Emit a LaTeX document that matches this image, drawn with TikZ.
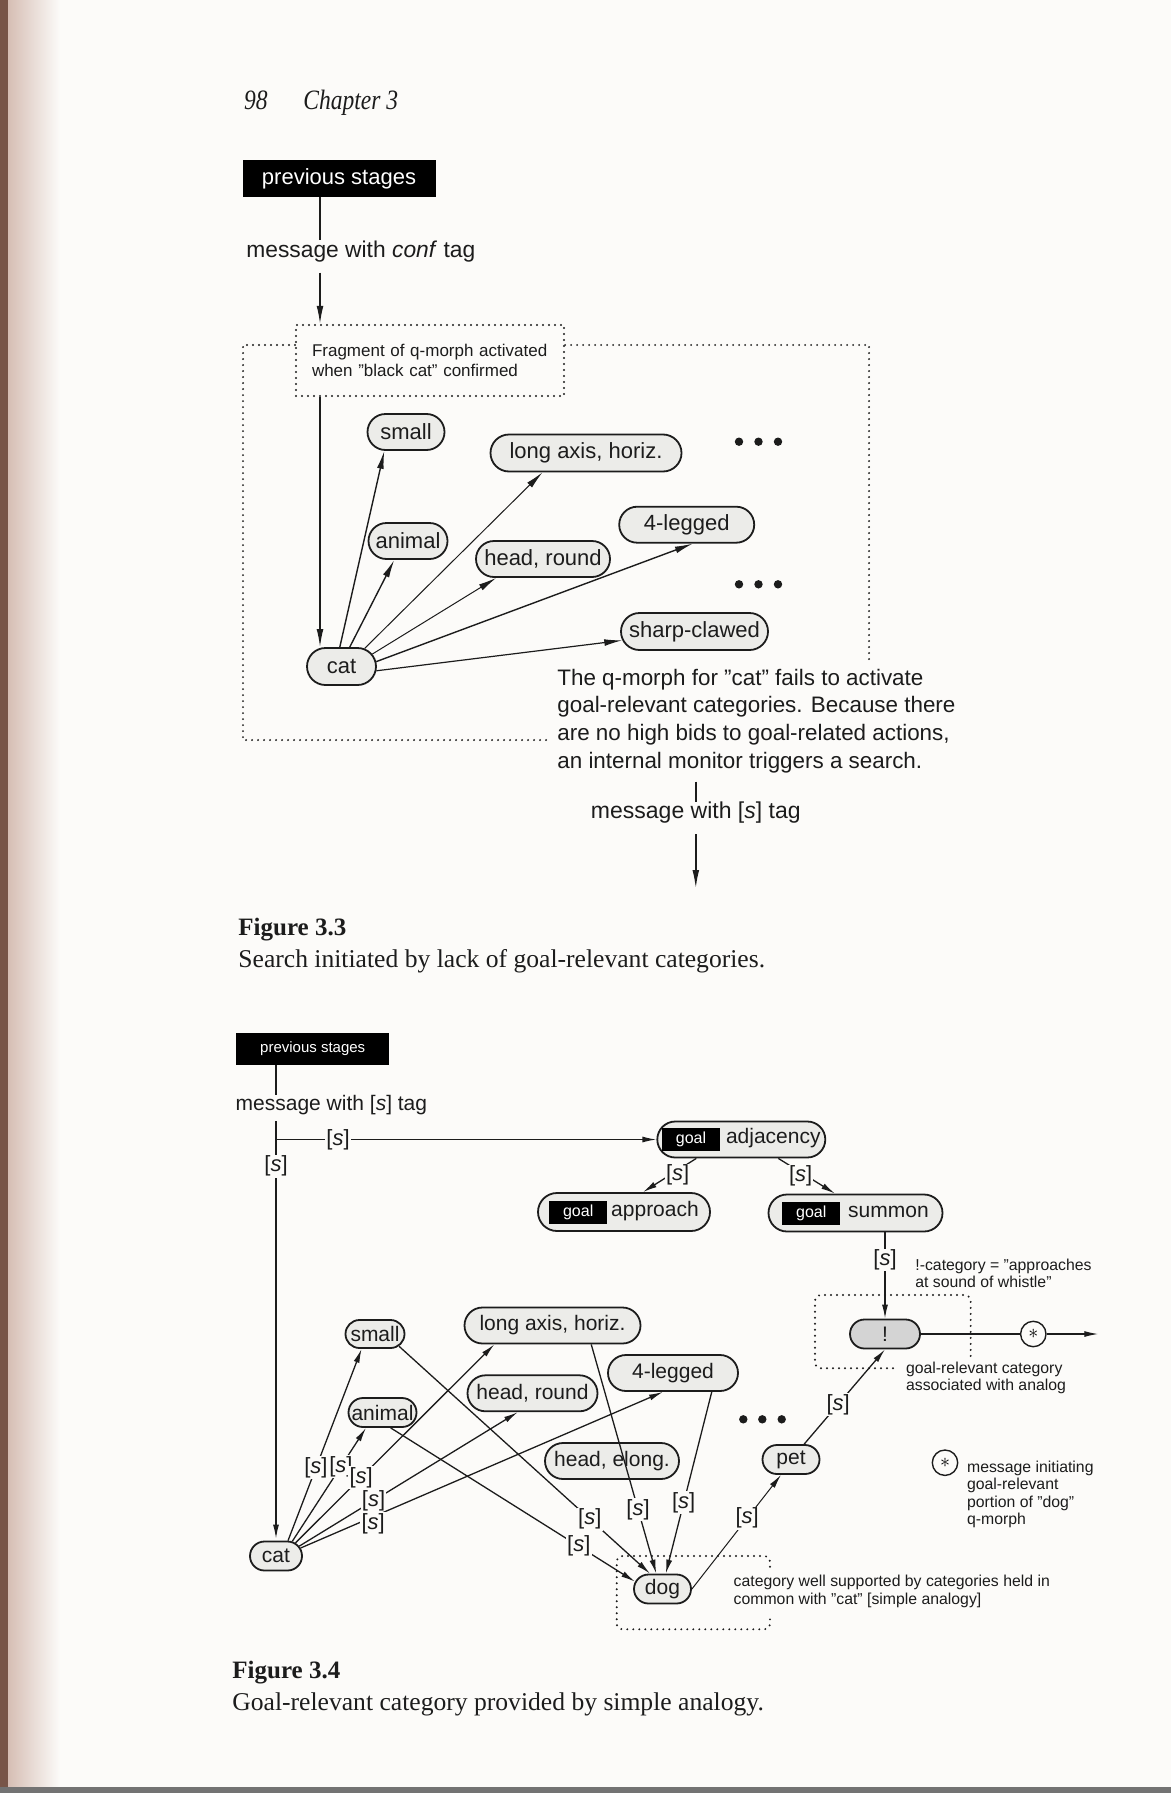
\documentclass[tikz,border=0pt]{standalone}
\usepackage{fontspec}
\setmainfont{Liberation Serif}
\setsansfont{Liberation Sans}
\usepackage{tikz}
\usetikzlibrary{arrows.meta,positioning,calc,shapes.misc}
\usepackage{xcolor}
\definecolor{pagebg}{RGB}{252,251,249}
\definecolor{gutter}{RGB}{214,190,180}
\definecolor{gutterdark}{RGB}{120,85,72}
\definecolor{stipple}{RGB}{236,236,233}
\definecolor{inkgray}{RGB}{28,28,28}
\newcommand{\goaltag}{{\setlength{\fboxsep}{0pt}\colorbox{black}{\makebox[29pt]{\rule[-3.6pt]{0pt}{11.5pt}\color{white}\fontsize{8}{8}\selectfont goal}}}}
\newcommand{\stag}{[\textit{s}]}
\tikzset{
  catbox/.style={rounded rectangle, draw=inkgray, line width=0.9pt, fill=stipple,
                 inner sep=0pt, text=inkgray},
  bigcat/.style={catbox, font=\sffamily\fontsize{11}{13}\selectfont},
  smallcat/.style={catbox, font=\sffamily\fontsize{10.5}{12}\selectfont},
  stagebox/.style={fill=black, text=white, inner sep=0pt},
  bigarr/.style={-{Latex[length=9pt,width=3.4pt]}, draw=inkgray, line width=0.7pt},
  smallarr/.style={-{Latex[length=7pt,width=3pt]}, draw=inkgray, line width=0.65pt},
  plainline/.style={draw=inkgray, line width=0.7pt},
  dotline/.style={draw=inkgray, line width=1.1pt, line cap=round, dash pattern=on 0pt off 3pt},
  tagl/.style={fill=pagebg, inner sep=0.6pt, text=inkgray, font=\sffamily\fontsize{11}{11}\selectfont},
  msgtext/.style={inner sep=0pt, text=inkgray},
  note/.style={align=left, inner sep=0pt, text=inkgray, font=\sffamily\fontsize{7.9}{8.7}\selectfont},
  runhead/.style={inner sep=0pt, text=inkgray, font=\itshape\fontsize{14}{14}\selectfont},
  figlabel/.style={inner sep=0pt, text=inkgray, font=\bfseries\fontsize{12.5}{14}\selectfont},
  figcap/.style={inner sep=0pt, text=inkgray, font=\fontsize{12.8}{15}\selectfont},
}

\begin{document}
\begin{tikzpicture}[x=0.5pt,y=-0.5pt]
% page and gutter
\fill[pagebg] (0,0) rectangle (1171,1793);
\shade[left color=gutter, right color=pagebg] (8,0) rectangle (60,1793);
\fill[gutterdark] (0,0) rectangle (8,1793);
\fill[black!55] (0,1787) rectangle (1171,1793);
\useasboundingbox (0,0) rectangle (1171,1793);

\node[runhead, anchor=base west] (pgno) at (243.6,109.5) {\scalebox{0.84}[1]{98}};
\node[runhead, anchor=base west] (chap) at (303,109.5) {\scalebox{0.84}[1]{Chapter 3}};

% ---- Figure 3.3 ----
\coordinate (spine1) at (320,0);
\node[stagebox, minimum width=96.5pt, minimum height=18.5pt,
      font=\sffamily\fontsize{11}{11}\selectfont] (prev1) at (339,178.5) {previous stages};
\node[msgtext, font=\sffamily\fontsize{11.4}{13}\selectfont] (msg1) at (360.8,251.5)
  {message with \textit{conf} tag};
\node[dotline, minimum width=134pt, minimum height=35.5pt, inner xsep=8pt, text width=118pt,
      align=left, text=inkgray, font=\sffamily\fontsize{8.5}{9.6}\selectfont] (frag) at (430,360.5)
  {Fragment of q-morph activated\\when ''black cat'' confirmed};

\coordinate (bnd1) at (243,345);
\coordinate (bnd2) at (243,740);
\coordinate (bnd3) at (547,740);
\coordinate (bnd4) at (869,345);
\coordinate (bnd5) at (869,665);
\draw[dotline] (frag.west |- bnd1) -- (bnd1) -- (bnd2) -- (bnd3);
\draw[dotline] (frag.east |- bnd4) -- (bnd4) -- (bnd5);

\node[bigcat, minimum width=34.5pt, minimum height=18.5pt] (cat1) at (341.5,666.5) {cat};
\node[bigcat, minimum width=38.5pt, minimum height=18pt] (small1) at (406,432) {small};
\node[bigcat, minimum width=95.5pt, minimum height=18.5pt] (axis1) at (586,453) {long axis, horiz.};
\node[bigcat, minimum width=39.5pt, minimum height=18pt] (animal1) at (408,541) {animal};
\node[bigcat, minimum width=67pt, minimum height=18pt] (round1) at (543,559) {head, round};
\node[bigcat, minimum width=67.5pt, minimum height=18pt] (legged1) at (686.7,524.7) {4-legged};
\node[bigcat, minimum width=73.5pt, minimum height=18.5pt] (clawed1) at (694.5,631.5) {sharp-clawed};
\coordinate (dotsA) at (739,441.7);
\coordinate (dotsB) at (739,584.3);
\foreach \dx in {0,19.5,39} {
  \fill[inkgray] ($(dotsA)+(\dx,0)$) circle (2.1pt);
  \fill[inkgray] ($(dotsB)+(\dx,0)$) circle (2.1pt);
}

\draw[plainline] (prev1.south -| spine1) -- (msg1.north -| spine1);
\draw[bigarr, shorten <=5pt] (msg1.south -| spine1) -- (frag.north -| spine1);
\draw[bigarr] (frag.south -| spine1) -- (cat1.north -| spine1);
\draw[bigarr] (cat1.95) -- (small1.221);
\draw[bigarr] (cat1.67) -- (animal1.234);
\draw[bigarr, line width=0.5pt] (cat1.38) -- (axis1.204);
\draw[bigarr, line width=0.5pt] (cat1.22) -- (round1.202);
\draw[bigarr] (cat1.8) -- (legged1.288);
\draw[bigarr, line width=0.6pt] (cat1.353) -- (clawed1.187);

\node[msgtext, anchor=west, align=left, font=\sffamily\fontsize{11.2}{13.9}\selectfont] (para) at (557,721)
  {The q-morph for ''cat'' fails to activate\\goal-relevant categories. Because there\\are no high bids to goal-related actions,\\an internal monitor triggers a search.};
\node[msgtext, font=\sffamily\fontsize{11.5}{13}\selectfont] (msg2) at (695.8,813) {message with \stag\ tag};
\coordinate (out1) at (695.8,888);
\draw[plainline, shorten <=4pt] (para.south -| msg2) -- (msg2.north);
\draw[bigarr, shorten <=5pt] (msg2.south) -- (out1);

\node[figlabel, anchor=base west] (cap3) at (238,935) {Figure 3.3};
\node[figcap, anchor=base west] (cap3t) at (238,967.5) {Search initiated by lack of goal-relevant categories.};

% ---- Figure 3.4 ----
\node[stagebox, minimum width=76.5pt, minimum height=16pt,
      font=\sffamily\fontsize{7.5}{7.5}\selectfont] (prev2) at (312.7,1048.9) {previous stages};
\node[msgtext, font=\sffamily\fontsize{10.5}{12}\selectfont] (msg3) at (331.4,1105) {message with \stag\ tag};

\node[smallcat, minimum width=84pt, minimum height=18pt] (adj) at (741.3,1139.5) {\goaltag\hspace{3pt}adjacency};
\node[smallcat, minimum width=86pt, minimum height=19pt] (appr) at (624,1212) {\goaltag\hspace{2pt}approach};
\node[smallcat, minimum width=87pt, minimum height=18.5pt] (summ) at (855.5,1213) {\goaltag\hspace{4pt}summon};

\node[smallcat, minimum width=26pt, minimum height=14.5pt] (cat2) at (276,1556) {cat};
\node[smallcat, minimum width=29.5pt, minimum height=14pt] (small2) at (375,1334) {small};
\node[smallcat, minimum width=34pt, minimum height=14.5pt] (animal2) at (382.5,1412.5) {animal};
\node[smallcat, minimum width=88pt, minimum height=18pt] (axis2) at (552.5,1325.5) {long axis, horiz.};
\node[smallcat, minimum width=65pt, minimum height=18pt] (round2) at (532.5,1393.3) {head, round};
\node[smallcat, minimum width=65pt, minimum height=18pt] (legged2) at (673,1373) {4-legged};
\node[smallcat, minimum width=67pt, minimum height=18pt] (elong2) at (612,1461) {head, elong.};
\node[smallcat, minimum width=28.5pt, minimum height=14.5pt] (dog) at (662.5,1589) {dog};
\node[smallcat, minimum width=28.5pt, minimum height=14.5pt] (pet) at (791,1459.5) {pet};
\node[smallcat, minimum width=35pt, minimum height=14.5pt, fill=black!17] (bang) at (885,1334) {!};
\node[circle, draw=inkgray, line width=0.7pt, fill=pagebg, minimum size=12.7pt, inner sep=0pt] (star) at (1033.3,1334) {$\ast$};
\node[circle, draw=inkgray, line width=0.7pt, minimum size=12.7pt, inner sep=0pt] (starkey) at (945,1462.7) {$\ast$};
\coordinate (out2) at (1098.3,1334);
\coordinate (dotsC) at (743.3,1419.3);
\foreach \dx in {0,19,38.4}
  \fill[inkgray] ($(dotsC)+(\dx,0)$) circle (2.1pt);

% spine with [s] tags
\draw[plainline] (prev2.south -| cat2.north) -- (msg3.north -| cat2.north);
\draw[smallarr, shorten <=3pt, shorten >=1pt] (msg3.south -| cat2.north) -- (cat2.north)
  node[pos=0.12, tagl] {\stag};
\draw[smallarr] (adj.west -| cat2.north) -- (adj.west) node[pos=0.163, tagl] {\stag};

% goal hierarchy
\draw[smallarr] ($(adj.south)+(-45,0)$) -- ($(appr.north)+(19,0)$) node[midway, xshift=4pt, tagl] {\stag};
\draw[smallarr] ($(adj.south)+(37,0)$) -- ($(summ.north)+(-20.5,0)$) node[midway, xshift=-3pt, tagl] {\stag};
\draw[smallarr] (summ.south -| bang.north) -- (bang.north) node[pos=0.32, tagl] {\stag};

% cat to its categories
\draw[smallarr] (cat2.52) -- (small2.228) node[pos=0.38, tagl] {\stag};
\draw[smallarr] (cat2.42) -- (animal2.223) node[pos=0.66, tagl] {\stag};
\draw[smallarr] (cat2.34) -- (axis2.198) node[pos=0.33, tagl] {\stag};
\draw[smallarr] (cat2.23) -- (round2.232) node[pos=0.34, tagl] {\stag};
\draw[smallarr] (cat2.18) -- (legged2.242) node[pos=0.2, yshift=-3.5pt, tagl] {\stag};

% shared categories to dog
\draw[smallarr] (small2.333) -- (dog.129) node[pos=0.76, tagl] {\stag};
\draw[smallarr] (animal2.298) -- (dog.165) node[pos=0.77, tagl] {\stag};
\draw[smallarr] (axis2.334) -- (dog.112) node[pos=0.72, tagl] {\stag};
\draw[smallarr] (legged2.334) -- (dog.78) node[pos=0.61, tagl] {\stag};

\draw[smallarr, line width=0.5pt] (dog.east) -- ($(pet.south)+(-10,0)$) node[pos=0.62, tagl] {\stag};
\draw[smallarr] (pet) -- (bang.south) node[pos=0.42, tagl] {\stag};
\draw[plainline] (bang.east) -- (star.west);
\draw[smallarr] (star.east) -- (out2);

% dotted regions
\draw[dotline, rounded corners=3pt] (893,1368.3) -- (815,1368.3) -- (815,1295) -- (970.7,1295) -- (970.7,1356.7);
\draw[dotline, rounded corners=3pt] (770,1566.7) -- (770,1556) -- (616.7,1556) -- (616.7,1629.3) -- (770,1629.3) -- (770,1618);

% notes
\node[note, anchor=west] (bangnote) at (915,1273.5) {!-category = ''approaches\\at sound of whistle''};
\node[note, anchor=west] (goalnote) at (905.7,1378) {goal-relevant category\\associated with analog};
\node[note, anchor=west] (starnote) at (966.7,1494.2) {message initiating\\goal-relevant\\portion of ''dog''\\q-morph};
\node[note, anchor=west] (dognote) at (733.3,1591.3) {category well supported by categories held in\\common with ''cat'' [simple analogy]};

\node[figlabel, anchor=base west] (cap4) at (232,1678.8) {Figure 3.4};
\node[figcap, anchor=base west] (cap4t) at (232,1710.8) {Goal-relevant category provided by simple analogy.};
\end{tikzpicture}
\end{document}
